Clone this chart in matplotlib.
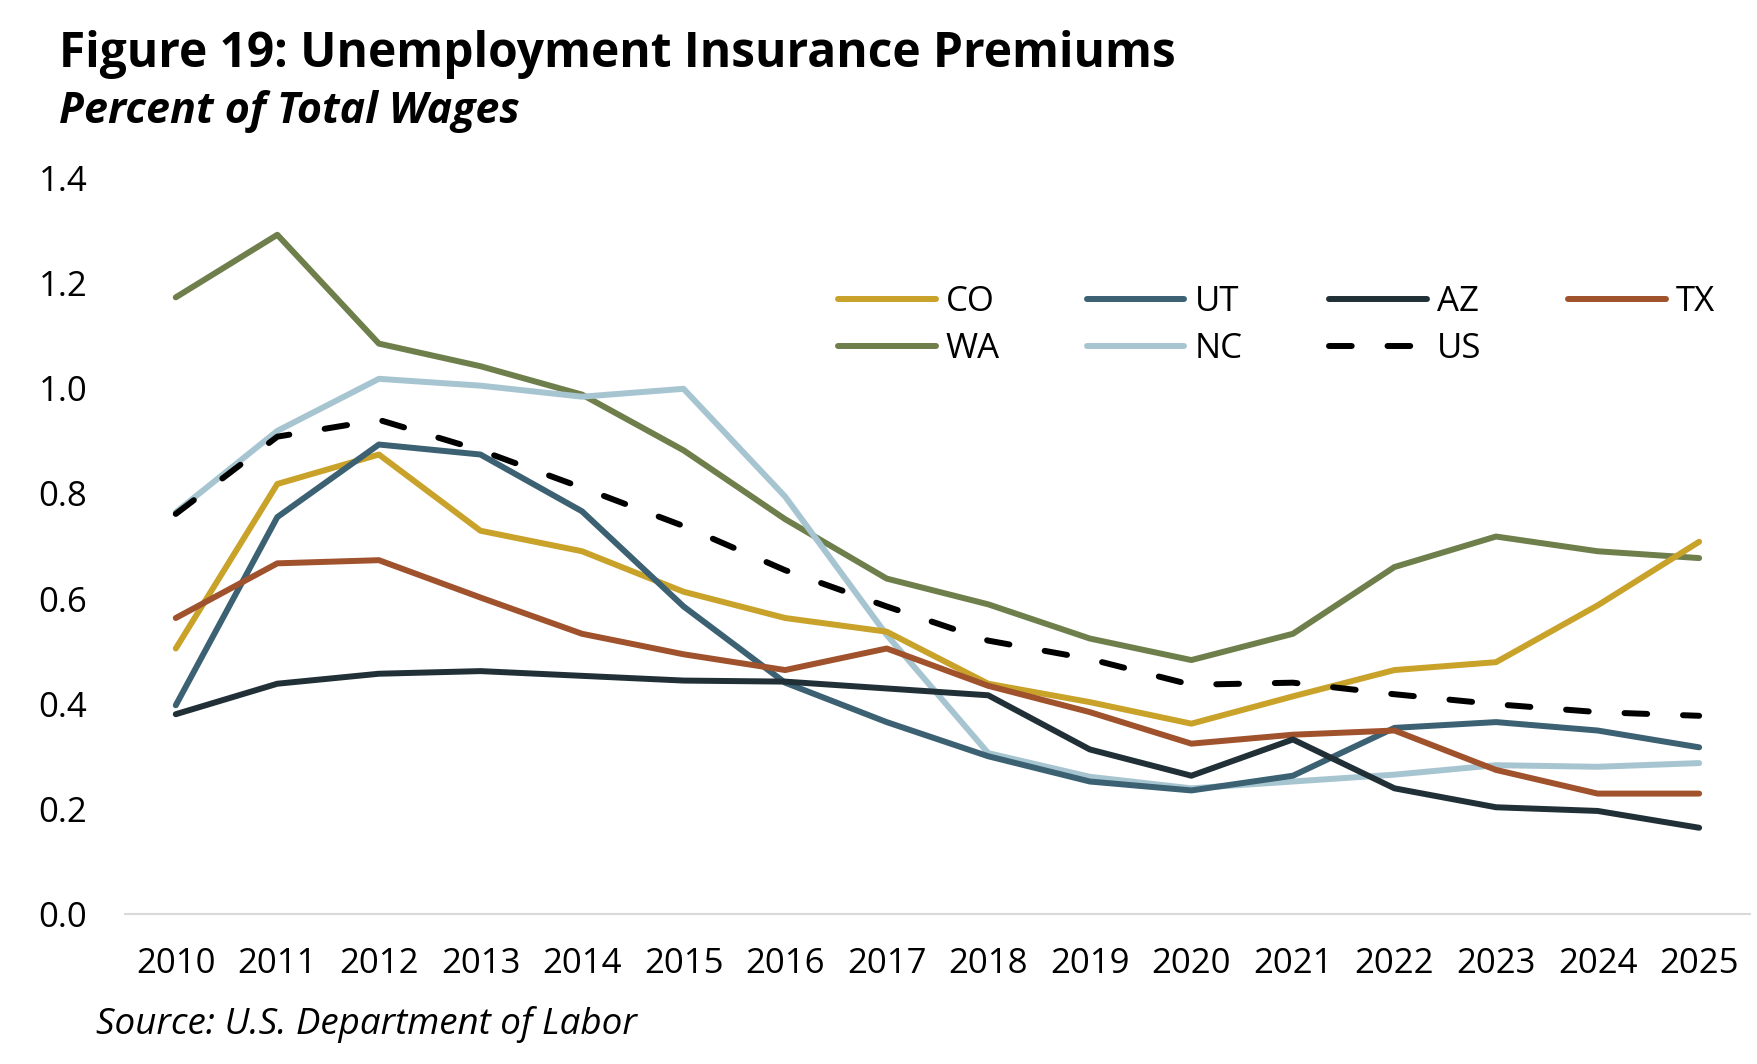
import matplotlib
matplotlib.use("Agg")
import matplotlib.pyplot as plt

years = [2010, 2011, 2012, 2013, 2014, 2015, 2016, 2017, 2018, 2019, 2020, 2021, 2022, 2023, 2024, 2025]
year_labels = [str(y) for y in years]

co = [0.505, 0.818, 0.874, 0.729, 0.690, 0.613, 0.563, 0.537, 0.438, 0.403, 0.362, 0.414, 0.464, 0.479, 0.587, 0.708]
ut = [0.397, 0.755, 0.893, 0.874, 0.766, 0.585, 0.440, 0.365, 0.300, 0.252, 0.235, 0.263, 0.354, 0.365, 0.349, 0.317]
az = [0.380, 0.438, 0.457, 0.462, 0.453, 0.444, 0.442, 0.429, 0.416, 0.313, 0.263, 0.332, 0.239, 0.203, 0.196, 0.164]
tx = [0.563, 0.667, 0.673, 0.602, 0.533, 0.494, 0.464, 0.505, 0.434, 0.384, 0.324, 0.341, 0.349, 0.274, 0.229, 0.229]
wa = [1.173, 1.292, 1.085, 1.042, 0.988, 0.882, 0.751, 0.638, 0.589, 0.524, 0.483, 0.533, 0.660, 0.718, 0.690, 0.677]
nc = [0.764, 0.919, 1.018, 1.005, 0.984, 0.999, 0.794, 0.531, 0.306, 0.261, 0.239, 0.252, 0.265, 0.283, 0.280, 0.287]
us = [0.761, 0.908, 0.940, 0.882, 0.811, 0.738, 0.654, 0.585, 0.520, 0.485, 0.436, 0.440, 0.418, 0.399, 0.384, 0.377]

y_ticks = [0.0, 0.2, 0.4, 0.6, 0.8, 1.0, 1.2, 1.4]

plt.rcParams['font.family'] = ['Open Sans', 'DejaVu Sans']

fig = plt.figure(figsize=(17.58, 10.64), dpi=100)
ax = fig.add_axes([0.0711, 0.1410, 0.9243, 0.6917])

lw = 4.3
series = [
    ("CO", co, "#C9A22A", "-"),
    ("WA", wa, "#6E7F4B", "-"),
    ("UT", ut, "#3B6172", "-"),
    ("NC", nc, "#A7C5D1", "-"),
    ("AZ", az, "#213036", "-"),
    ("US", us, "#000000", "--"),
    ("TX", tx, "#A0522D", "-"),
]
draw_order = ["WA", "NC", "CO", "UT", "TX", "AZ", "US"]
handles = {}
for name in draw_order:
    for n, vals, col, ls in series:
        if n == name:
            if ls == "--":
                ln, = ax.plot(years, vals, color=col, lw=lw, dashes=(3.8, 6.0),
                              dash_capstyle='round', solid_joinstyle='round', label=n)
            else:
                ln, = ax.plot(years, vals, color=col, lw=lw, solid_capstyle='round',
                              solid_joinstyle='round', label=n)
            handles[n] = ln

order = [s[0] for s in series]
leg = ax.legend([handles[n] for n in order], order, ncol=4, loc='upper left',
                bbox_to_anchor=(0.439, 0.855), frameon=False, fontsize=25,
                handlelength=2.8, handletextpad=0.3, columnspacing=2.5,
                labelspacing=0.38, borderaxespad=0, borderpad=0)

ax.set_xlim(2009.5, 2025.5)
ax.set_ylim(0, 1.4)
ax.set_xticks(years)
ax.set_xticklabels(year_labels)
ax.set_yticks(y_ticks)
ax.set_yticklabels([f"{v:.1f}" for v in y_ticks])
ax.tick_params(axis='both', length=0, labelsize=25, colors='black')
ax.tick_params(axis='y', pad=27)
ax.tick_params(axis='x', pad=23.5)
for s in ['top', 'right', 'left']:
    ax.spines[s].set_visible(False)
ax.spines['bottom'].set_color('#D9D9D9')
ax.spines['bottom'].set_linewidth(1.5)

fig.text(0.0336, 0.937, "Figure 19: Unemployment Insurance Premiums", fontsize=34.5,
         fontweight='bold', va='baseline', ha='left')
fig.text(0.0336, 0.884, "Percent of Total Wages", fontsize=31, fontweight='bold',
         fontstyle='italic', va='baseline', ha='left')
fig.text(0.0546, 0.028, "Source: U.S. Department of Labor", fontsize=26.5,
         fontstyle='italic', va='baseline', ha='left')

fig.savefig("out.png", dpi=100)
